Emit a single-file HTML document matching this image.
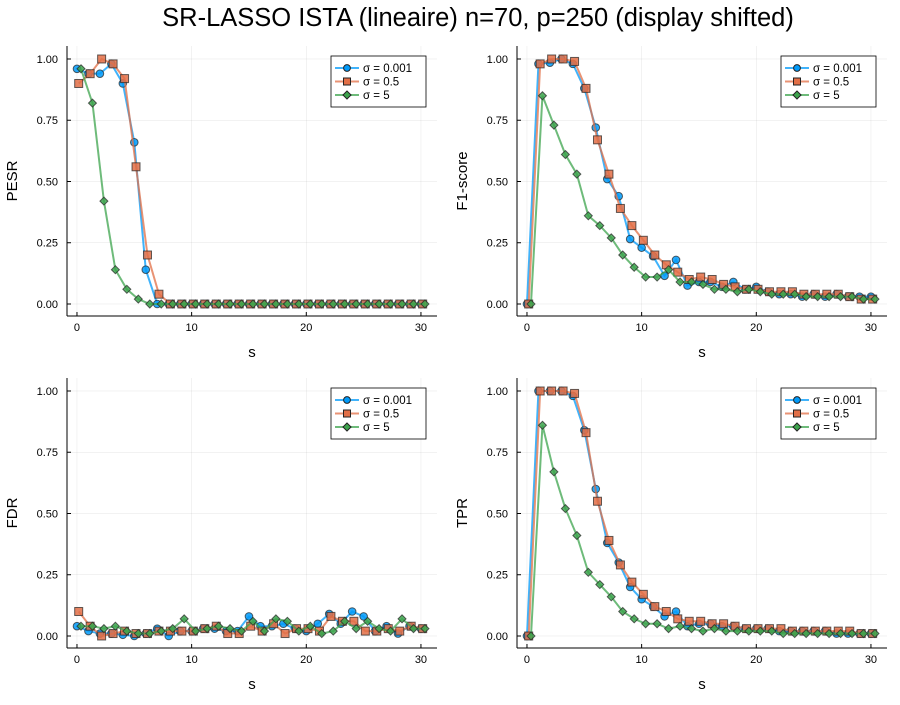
<!DOCTYPE html>
<html><head><meta charset="utf-8"><style>
body{margin:0;background:#fff;font-family:"Liberation Sans","DejaVu Sans",sans-serif}
svg text{font-family:"Liberation Sans","DejaVu Sans",sans-serif}
</style></head><body>
<svg id="c" width="900" height="700"></svg>
<script>
const sValues=[...Array(31).keys()];
const seriesNames=["σ = 0.001","σ = 0.5","σ = 5"];
const pesrBlue=[0.96,0.94,0.94,0.98,0.90,0.66,0.14,0,0,0,0,0,0,0,0,0,0,0,0,0,0,0,0,0,0,0,0,0,0,0,0];
const pesrOrange=[0.90,0.94,1.0,0.98,0.92,0.56,0.20,0.04,0,0,0,0,0,0,0,0,0,0,0,0,0,0,0,0,0,0,0,0,0,0,0];
const pesrGreen=[0.96,0.82,0.42,0.14,0.06,0.02,0,0,0,0,0,0,0,0,0,0,0,0,0,0,0,0,0,0,0,0,0,0,0,0,0];
const f1Blue=[0,0.98,0.985,1.0,0.98,0.88,0.72,0.51,0.44,0.265,0.23,0.195,0.115,0.18,0.075,0.09,0.09,0.07,0.09,0.06,0.07,0.05,0.04,0.04,0.03,0.04,0.03,0.04,0.03,0.03,0.03];
const f1Orange=[0,0.98,1.0,1.0,0.99,0.88,0.67,0.53,0.39,0.32,0.26,0.20,0.16,0.13,0.10,0.11,0.10,0.08,0.07,0.06,0.06,0.05,0.05,0.05,0.04,0.04,0.04,0.04,0.03,0.02,0.02];
const f1Green=[0,0.85,0.73,0.61,0.53,0.36,0.32,0.27,0.20,0.15,0.11,0.11,0.14,0.09,0.09,0.08,0.06,0.06,0.05,0.06,0.05,0.04,0.04,0.04,0.03,0.03,0.03,0.03,0.03,0.02,0.02];
const fdrBlue=[0.04,0.02,0.01,0.01,0.005,0,0.01,0.03,0,0.02,0.02,0.03,0.03,0.02,0.02,0.08,0.04,0.04,0.05,0.03,0.02,0.05,0.09,0.05,0.10,0.08,0.02,0.04,0.01,0.04,0.03];
const fdrOrange=[0.10,0.04,0,0.01,0.02,0.01,0.01,0.02,0.02,0.02,0.02,0.03,0.04,0.01,0.01,0.04,0.02,0.05,0.01,0.03,0.03,0.02,0.08,0.06,0.06,0.02,0.02,0.03,0.02,0.04,0.03];
const fdrGreen=[0.04,0.04,0.03,0.04,0.02,0.01,0.01,0.02,0.03,0.07,0.02,0.03,0.04,0.03,0.02,0.06,0.02,0.07,0.06,0.02,0.04,0.01,0.02,0.06,0.03,0.06,0.03,0.02,0.07,0.03,0.03];
const tprBlue=[0,1,1,1,0.98,0.84,0.60,0.38,0.30,0.20,0.15,0.12,0.08,0.10,0.04,0.05,0.05,0.04,0.04,0.03,0.03,0.03,0.02,0.02,0.02,0.02,0.02,0.01,0.01,0.01,0.01];
const tprOrange=[0,1,1,1,0.99,0.83,0.55,0.39,0.29,0.22,0.17,0.12,0.10,0.07,0.06,0.06,0.05,0.05,0.04,0.03,0.03,0.03,0.03,0.02,0.02,0.02,0.02,0.02,0.02,0.01,0.01];
const tprGreen=[0,0.86,0.67,0.52,0.41,0.26,0.21,0.16,0.10,0.07,0.05,0.05,0.03,0.04,0.03,0.02,0.03,0.02,0.02,0.02,0.02,0.02,0.01,0.01,0.01,0.01,0.01,0.01,0.01,0.01,0.01];
const xTicks=[0,10,20,30];
const yTicks=[0,0.25,0.5,0.75,1.0];
const yTickLabels=["0.00","0.25","0.50","0.75","1.00"];
const shifts=[0,0.15,0.35];
const colors=["#009af9","#e26f46","#3da44d"];
const panels=[
 {name:"pesr",title:"PESR",l:67,r:437,t:46,b:316,data:[pesrBlue,pesrOrange,pesrGreen]},
 {name:"f1",title:"F1-score",l:517,r:887,t:46,b:316,data:[f1Blue,f1Orange,f1Green]},
 {name:"fdr",title:"FDR",l:67,r:437,t:378,b:648,data:[fdrBlue,fdrOrange,fdrGreen]},
 {name:"tpr",title:"TPR",l:517,r:887,t:378,b:648,data:[tprBlue,tprOrange,tprGreen]}];
const NS="http://www.w3.org/2000/svg";
const svg=document.getElementById("c");
function mk(tag,at,parent){const e=document.createElementNS(NS,tag);for(const k in at)e.setAttribute(k,at[k]);(parent||svg).appendChild(e);return e;}
const title=mk("text",{x:478,y:26,"text-anchor":"middle","font-size":25.5,fill:"#000"});
title.textContent="SR-LASSO ISTA (lineaire) n=70, p=250 (display shifted)";


const xmin=-0.87,xmax=31.4,ymin=-0.049,ymax=1.053;
panels.forEach(p=>{
 const g=mk("g",{});
 
 
 const X=v=>p.l+(v-xmin)/(xmax-xmin)*(p.r-p.l);
 const Y=v=>p.b-(v-ymin)/(ymax-ymin)*(p.b-p.t);
 xTicks.forEach(t=>{mk("line",{x1:X(t),x2:X(t),y1:p.t,y2:p.b,stroke:"#000","stroke-opacity":0.1,"stroke-width":0.5},g);
  mk("line",{x1:X(t),x2:X(t),y1:p.b,y2:p.b-4,stroke:"#000"},g);
  const tl=mk("text",{x:X(t),y:p.b+15,"text-anchor":"middle","font-size":11},g);tl.textContent=t;
  
  });
 yTicks.forEach((t,i)=>{mk("line",{x1:p.l,x2:p.r,y1:Y(t),y2:Y(t),stroke:"#000","stroke-opacity":0.1,"stroke-width":0.5},g);
  mk("line",{x1:p.l,x2:p.l+4,y1:Y(t),y2:Y(t),stroke:"#000"},g);
  const tl=mk("text",{x:p.l-9,y:Y(t)+4,"text-anchor":"end","font-size":11},g);tl.textContent=yTickLabels[i];
  
  });
 mk("line",{x1:p.l,x2:p.l,y1:p.t,y2:p.b,stroke:"#000"},g);
 mk("line",{x1:p.l,x2:p.r,y1:p.b,y2:p.b,stroke:"#000"},g);
 const xt=mk("text",{x:(p.l+p.r)/2,y:p.b+41,"text-anchor":"middle","font-size":15},g);xt.textContent="s";
 
 
 const yx=p.l-50,yy=(p.t+p.b)/2;
 const yt=mk("text",{x:yx,y:yy,"text-anchor":"middle","font-size":15,transform:`rotate(-90 ${yx} ${yy})`},g);yt.textContent=p.title;
 
 
 p.data.forEach((arr,k)=>{
  const pts=arr.map((v,i)=>[X(sValues[i]+shifts[k]),Y(v)]);
  const ln=mk("polyline",{points:pts.map(q=>q.join(",")).join(" "),fill:"none",stroke:colors[k],"stroke-width":2,"stroke-opacity":0.75},g);
  
  
  pts.forEach(([x,y])=>{let m;
   const st={fill:colors[k],"fill-opacity":0.85,stroke:"#222","stroke-width":1,"stroke-opacity":0.7};
   if(k==0)m=mk("circle",Object.assign({cx:x,cy:y,r:3.8},st),g);
   else if(k==1)m=mk("rect",Object.assign({x:x-4,y:y-4,width:8,height:8},st),g);
   else m=mk("polygon",Object.assign({points:`${x},${y-4} ${x+4},${y} ${x},${y+4} ${x-4},${y}`},st),g);
   
   });
 });
 const lg=mk("g",{},g);
 
 
 const lx=p.r-106,ly=p.t+10;
 mk("rect",{x:lx,y:ly,width:95,height:51,fill:"#fff",stroke:"#000","stroke-width":0.8},lg);
 seriesNames.forEach((n,k)=>{const yy2=ly+12+k*13.5;
  mk("line",{x1:lx+4,x2:lx+28,y1:yy2,y2:yy2,stroke:colors[k],"stroke-width":2,"stroke-opacity":0.75},lg);
  const cx=lx+16;
  if(k==0)mk("circle",{cx:cx,cy:yy2,r:3.4,fill:colors[k],stroke:"#222"},lg);
  else if(k==1)mk("rect",{x:cx-3.5,y:yy2-3.5,width:7,height:7,fill:colors[k],stroke:"#222"},lg);
  else mk("polygon",{points:`${cx},${yy2-4} ${cx+4},${yy2} ${cx},${yy2+4} ${cx-4},${yy2}`,fill:colors[k],stroke:"#222"},lg);
  const t=mk("text",{x:lx+32,y:yy2+4,"font-size":11.5},lg);t.textContent=n;
  
  });
});
</script>
</body></html>
